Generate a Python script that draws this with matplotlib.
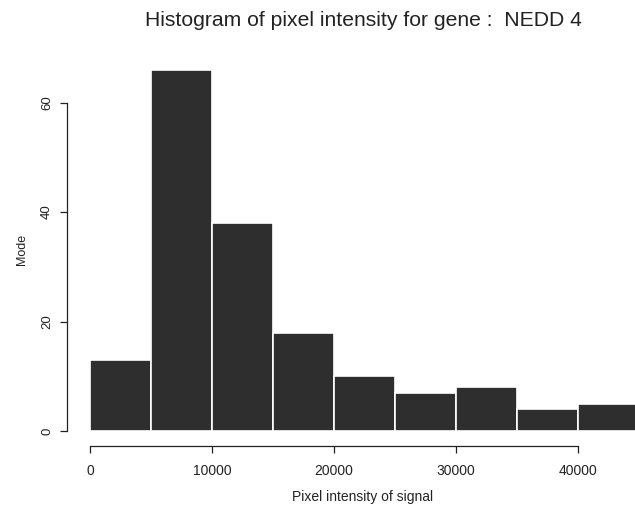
import numpy as np
import matplotlib.pyplot as plt

# histogram of pixel intensity, 5000-wide bins
bin_edges = [0, 5000, 10000, 15000, 20000, 25000, 30000, 35000, 40000, 45000]
counts = [13, 66, 38, 18, 10, 7, 8, 4, 5]
x_ticks = [0, 10000, 20000, 30000, 40000]
y_ticks = [0, 20, 40, 60]

plt.rcParams["font.family"] = ["Liberation Sans", "DejaVu Sans"]

fig = plt.figure(figsize=(6.35, 5.09), dpi=100)
W, H = 635, 509
# plot region in pixels: left 67, right 635, top 60, bottom 446
ax = fig.add_axes([67 / W, 1 - 446 / H, (635 - 67) / W, (446 - 60) / H])

edges = np.array(bin_edges)
ax.bar(edges[:-1], counts, width=np.diff(edges), align="edge",
       color="#2e2e2e", edgecolor="white", linewidth=1.2)

ax.set_xlim(-1885, 44672)
ax.set_ylim(-2.74, 67.8)

for side in ["top", "right"]:
    ax.spines[side].set_visible(False)
ax.spines["left"].set_bounds(0, 60)
ax.spines["bottom"].set_bounds(0, 40000)
for side in ["left", "bottom"]:
    ax.spines[side].set_linewidth(0.9)
    ax.spines[side].set_color("#222222")

ax.set_xticks(x_ticks)
ax.set_yticks(y_ticks)
ax.set_xticklabels([str(v) for v in x_ticks])
ax.set_yticklabels([str(v) for v in y_ticks], rotation=90, va="center")
ax.tick_params(axis="both", direction="out", length=5, width=0.9,
               colors="#222222")
ax.tick_params(axis="x", pad=8, labelsize=10)
ax.tick_params(axis="y", pad=5, labelsize=9.5)

fig.text(363 / W, 1 - 20 / H, "Histogram of pixel intensity for gene :  NEDD 4",
         ha="center", va="center", fontsize=15.2, color="#222222")
fig.text(363 / W, 1 - 497 / H, "Pixel intensity of signal",
         ha="center", va="center", fontsize=10, color="#222222")
fig.text(22 / W, 1 - 249 / H, "Mode", rotation=90,
         ha="center", va="center", fontsize=9, color="#222222")

fig.savefig("out.png", dpi=100)
